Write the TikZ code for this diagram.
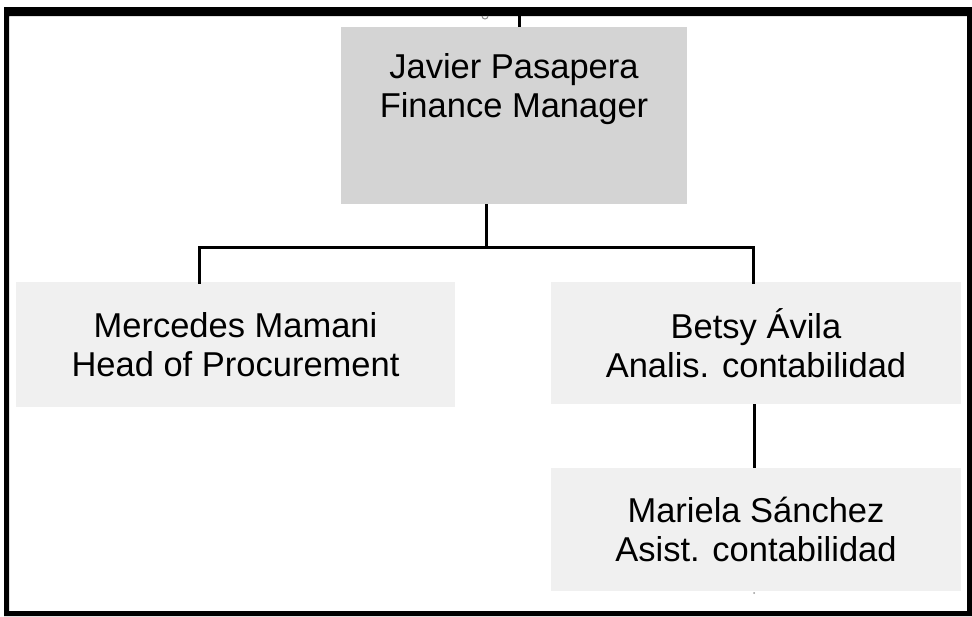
\documentclass[tikz,border=0pt]{standalone}
\usepackage{fontspec}
\setmainfont{Liberation Sans}
\begin{document}
\begin{tikzpicture}[x=1pt,y=-1pt,
  every node/.style={inner sep=0pt,outer sep=0pt},
  orgtext/.style={font=\fontsize{34.5}{39.5}\selectfont,align=center,text=black},
  headbox/.style={fill=black!17,minimum width=346pt,minimum height=177pt},
  staffbox/.style={fill=black!6,orgtext},
  link/.style={draw=black,line width=3pt}]
  \useasboundingbox (0,0) rectangle (972,616);
  \fill[white] (0,0) rectangle (972,616);
  % frame
  \fill[black,even odd rule] (4,7) rectangle (972,616) (9,16) rectangle (967,611);

  % boxes
  \node[headbox] (jp) at (514,115.5) {};
  \node[orgtext] (jptext) at (514,89) {Javier Pasapera\\Finance Manager};
  \node[staffbox,minimum width=439pt,minimum height=125pt] (mm) at (235.5,344.5)
    {Mercedes Mamani\\Head of Procurement};
  \node[staffbox,minimum width=410pt,minimum height=122pt] (ba) at (756,343)
    {Betsy Ávila\\Analis. contabilidad};
  \node[staffbox,minimum width=410pt,minimum height=123pt] (ms) at (756,529.5)
    {Mariela Sánchez\\Asist. contabilidad};

  % connectors
  \coordinate (up) at (519,16);
  \coordinate (bus) at (486,247);
  \coordinate (busL) at (199,247);
  \coordinate (busR) at (753,247);
  \coordinate (sub) at (754,0);
  \draw[link] (up) -- (up |- jp.north);
  \draw[link] (jp.south -| bus) -- (bus);
  \draw[link,line cap=rect] (busL |- mm.north) -- (busL) -- (busR) -- (busR |- ba.north);
  \draw[link] (ba.south -| sub) -- (ms.north -| sub);

  % small marks
  \draw[black!45,line width=1pt] (482,16) arc (180:0:3);
  \fill[black!40] (754,593) circle (1pt);
\end{tikzpicture}
\end{document}
